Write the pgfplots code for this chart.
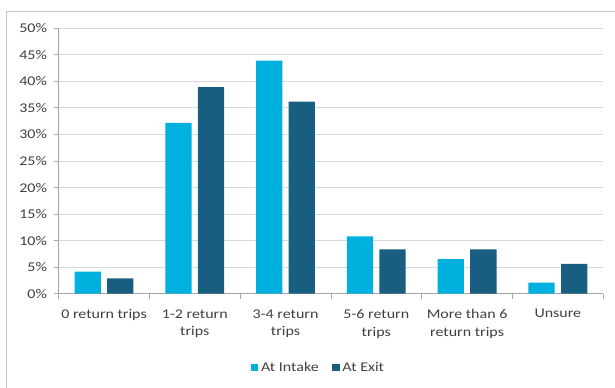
\documentclass[border=0pt]{standalone}
\usepackage{pgfplots}
\pgfplotsset{compat=1.18}
\usepackage{fontspec}
\setmainfont{Carlito}[FakeStretch=1.2]

\definecolor{intake}{RGB}{0,176,222}
\definecolor{exitc}{RGB}{23,94,128}
\definecolor{gridc}{RGB}{217,217,217}
\definecolor{axisc}{RGB}{166,166,166}
\definecolor{framec}{RGB}{200,200,200}
\definecolor{txt}{RGB}{64,64,64}

\begin{document}
\begin{tikzpicture}
% page area (1px = 0.75pt), axis box lower-left at the origin
\path[use as bounding box] (-44.0pt,-70.0pt) rectangle (417.25pt,220.25pt);
% chart frame
\draw[framec, line width=0.75pt] (-38.8pt,-72pt) -- (-38.8pt,212.0pt) -- (420pt,212.0pt);
\begin{axis}[
    at={(0pt,0pt)}, anchor=south west,
    scale only axis,
    width=408.45pt, height=199.05pt,
    ybar=4.7pt, bar width=19.7pt,
    xmin=-0.5, xmax=5.5,
    ymin=0, ymax=50,
    xtick={-0.5,0.5,1.5,2.5,3.5,4.5,5.5},
    x tick label as interval,
    xticklabels={0 return trips, {1-2 return\\trips}, {3-4 return\\trips},
                 {5-6 return\\trips}, {More than 6\\return trips}, Unsure},
    ytick={0,5,...,50},
    yticklabel={\pgfmathprintnumber{\tick}\%},
    /pgf/number format/assume math mode=true,
    tick align=outside,
    major tick length=3.75pt,
    tick style={axisc, line width=0.6pt},
    axis x line*=bottom,
    axis y line*=left,
    axis line style={axisc, line width=0.6pt, -},
    ymajorgrids,
    grid style={gridc, line width=0.6pt},
    tick label style={font=\fontsize{10}{13.3}\selectfont, text=txt},
    xticklabel style={align=center, yshift=-4.5pt},
    yticklabel style={xshift=-1.5pt},
    legend style={at={(0.4775,-0.278)}, anchor=center, draw=none,
                  font=\fontsize{10}{12}\selectfont, text=txt,
                  legend columns=2,
                  /tikz/every even column/.append style={column sep=8pt}},
    legend image code/.code={\fill[#1] (0pt,-2.9pt) rectangle (5.8pt,2.9pt);},
]
\addplot[fill=intake, draw=none] coordinates {
    (0,4.15) (1,32.2) (2,43.9) (3,10.8) (4,6.5) (5,2.1)};
\addplot[fill=exitc, draw=none] coordinates {
    (0,2.9) (1,38.9) (2,36.2) (3,8.35) (4,8.35) (5,5.6)};
\legend{At Intake, At Exit}
\end{axis}
\end{tikzpicture}
\end{document}
